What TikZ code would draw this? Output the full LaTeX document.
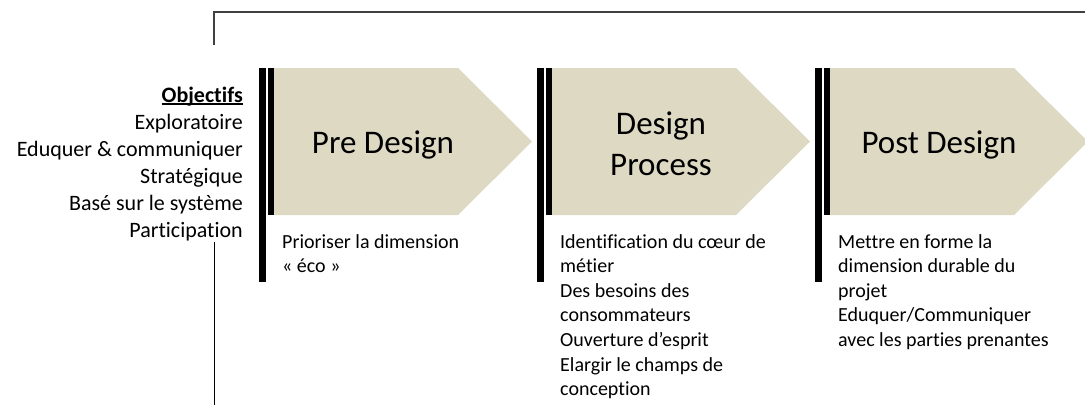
\documentclass[tikz,border=0pt]{standalone}
\usepackage{fontspec}
\setmainfont{Carlito}[Ligatures={NoCommon}]
\definecolor{beige}{HTML}{DDD9C3}
\definecolor{framegray}{HTML}{404040}
\newcommand\ulobj[1]{\leavevmode\setbox0\hbox{#1}\rlap{\rule[-3pt]{\wd0}{1.6pt}}\box0}
\begin{document}
\begin{tikzpicture}[x=1pt,y=-1pt,
  chev/.style={fill=beige},
  barfill/.style={fill=black},
  frameline/.style={draw=framegray,line width=1.3pt},
  axisline/.style={draw=black,line width=1pt},
  titletext/.style={inner sep=0pt,anchor=base,font=\fontsize{33}{41}\selectfont},
  bodytext/.style={inner sep=0pt,anchor=base west,font=\fontsize{20}{24.6}\selectfont}]
\useasboundingbox (0,0) rectangle (1085,405);
\fill[white] (0,0) rectangle (1085,405);

% chevrons with double bars
\foreach \dx in {0,278,556}{
  \begin{scope}[xshift=\dx]
    \fill[chev] (274,68) -- (458,68) -- (532,141.5) -- (458,215) -- (274,215) -- cycle;
    \fill[barfill] (259,68) rectangle (266,282);
    \fill[barfill] (268,68) rectangle (274,215);
  \end{scope}
}

% frame lines
\coordinate (fa) at (214,45);
\coordinate (fc) at (1085,12);
\draw[frameline] (fa) |- (fc);
\coordinate (la) at (214,242);
\coordinate (lb) at (214,405);
\draw[axisline] (la) -- (lb);

% objectives list
\node[anchor=base east,inner sep=0pt] (obj) at (243,102)
  {\parbox[t]{240pt}{\raggedleft\fontsize{22}{27}\selectfont
   \ulobj{\bfseries Objectifs}\\Exploratoire\\Eduquer \& communiquer\\Strat\'egique\\Bas\'e sur le syst\`eme\\Participation}};

% titles
\node[titletext] (pre) at (383,153) {Pre Design};
\node[titletext] (proc) at (661,134) {\parbox[t]{200pt}{\centering Design\\Process}};
\node[titletext] (post) at (939,153) {Post Design};

% body texts
\node[bodytext] (pretxt) at (282,248) {\parbox[t]{240pt}{Prioriser la dimension\\« éco »}};
\node[bodytext] (proctxt) at (560,248) {\parbox[t]{240pt}{Identification du cœur de\\métier\\Des besoins des\\consommateurs\\Ouverture d’esprit\\Elargir le champs de\\conception}};
\node[bodytext] (posttxt) at (838,248) {\parbox[t]{240pt}{Mettre en forme la\\dimension durable du\\projet\\Eduquer/Communiquer\\avec les parties prenantes}};
\end{tikzpicture}
\end{document}
